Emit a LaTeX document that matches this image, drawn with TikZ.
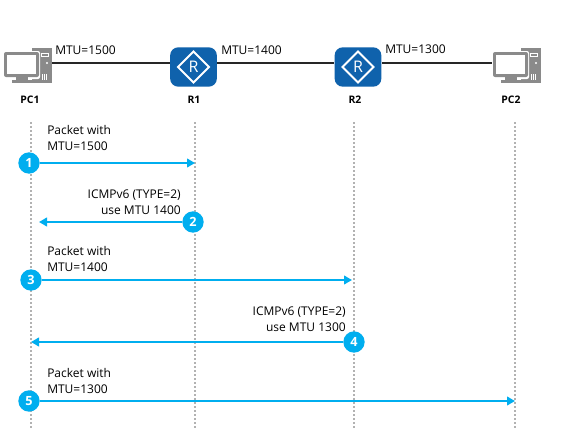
\documentclass[tikz,border=0pt]{standalone}
\usepackage{fontspec}
\setmainfont{Open Sans}
\usetikzlibrary{arrows.meta,shapes.geometric}
\definecolor{cy}{HTML}{00AEEF}
\definecolor{rb}{HTML}{0F62AC}
\definecolor{gr}{HTML}{8A8A8A}
\tikzset{
  x=0.75pt,y=-0.75pt,
  lbl/.style={font=\fontsize{9}{11.6}\selectfont,text=black,inner sep=0pt,align=left},
  lblr/.style={lbl,align=right},
  devname/.style={font=\fontsize{7.8}{10}\selectfont\bfseries,text=black,inner sep=0pt},
  link/.style={draw=black!85,line width=1.4pt},
  life/.style={draw=black!30,line width=1.1pt,dash pattern=on 1.5pt off 1.5pt},
  msg/.style={draw=cy,line width=2pt,-{Triangle[length=6pt,width=6.5pt]}},
  num/.style={circle,fill=cy,text=white,minimum size=16pt,inner sep=0pt,font=\fontsize{9.5}{10}\selectfont\bfseries},
  router/.style={rounded corners=6pt,fill=rb,minimum width=35pt,minimum height=29.5pt,inner sep=0pt},
  pcnode/.style={minimum width=36pt,minimum height=27pt,inner sep=0pt}
}
\newcommand{\pcicon}[2]{%
  \begin{scope}[shift={(#1,#2)}]
    \fill[gr] (28,-4) rectangle (48,31);
    \fill[white] (37,1) rectangle (45,5);
    \fill[gr] (38,2) rectangle (44,4);
    \fill[white] (43,11) circle (0.9pt);
    \foreach \k in {38,40,42}{\fill[white] (\k,22) rectangle (\k+1,28);}
    \fill[white,rounded corners=1.5pt] (-1,-1) rectangle (36,27);
    \fill[gr,rounded corners=1.5pt] (0,0) rectangle (35,25);
    \fill[white] (3,3) rectangle (32,22);
    \fill[gr] (12,25) rectangle (24,28);
    \fill[gr] (8,28) rectangle (30,31);
  \end{scope}}
\newcommand{\rticon}[2]{%
  \draw[white,line width=1.5pt,line join=miter] (#1-15.5,#2) -- (#1,#2-15.5) -- (#1+15.5,#2) -- (#1,#2+15.5) -- cycle;
  \node[text=white,inner sep=0pt,font=\fontsize{12}{12}\selectfont] at (#1,#2) {R};}
\begin{document}
\begin{tikzpicture}
\useasboundingbox (0,0) rectangle (569,439);
\fill[white] (0,0) rectangle (569,439);
% devices
\node[pcnode] (pc1) at (28,65) {};
\node[router] (r1) at (193.5,67) {};
\node[router] (r2) at (358,67) {};
\node[pcnode] (pc2) at (517,65) {};
\coordinate (pc1r) at (52,63);
\coordinate (r1l) at (170,63);
\coordinate (r1r) at (217,63);
\coordinate (r2l) at (334,63);
\coordinate (r2r) at (382,63);
\coordinate (pc2l) at (493,63);
\draw[link] (pc1r) -- (r1l);
\draw[link] (r1r) -- (r2l);
\draw[link] (r2r) -- (pc2l);
\pcicon{4}{52}
\pcicon{493}{52}
\rticon{193.5}{67}
\rticon{358}{67}
\node[devname] (n1) at (30,100) {PC1};
\node[devname] (n2) at (194,100) {R1};
\node[devname] (n3) at (355,100) {R2};
\node[devname] (n4) at (511,100) {PC2};
\node[lbl,anchor=west] (m1) at (55,50.5) {MTU=1500};
\node[lbl,anchor=west] (m2) at (221,50.5) {MTU=1400};
\node[lbl,anchor=west] (m3) at (385,49.5) {MTU=1300};
% lifelines
\coordinate (a0) at (31,122); \coordinate (a1) at (31,430);
\coordinate (b0) at (195,122); \coordinate (b1) at (195,430);
\coordinate (c0) at (354,122); \coordinate (c1) at (354,430);
\coordinate (d0) at (515,122); \coordinate (d1) at (515,430);
\draw[life] (a0) -- (a1);
\draw[life] (b0) -- (b1);
\draw[life] (c0) -- (c1);
\draw[life] (d0) -- (d1);
% messages
\node[num] (s1) at (29,163) {1};
\node[num] (s2) at (193,222) {2};
\node[num] (s3) at (31,280) {3};
\node[num] (s4) at (354,342) {4};
\node[num] (s5) at (29,401) {5};
\coordinate (e1) at (195,163);
\coordinate (e2) at (39,222);
\coordinate (e3) at (352,280);
\coordinate (e4) at (31,342);
\coordinate (e5) at (515,401);
\draw[msg] (s1) -- (e1);
\draw[msg] (s2) -- (e2);
\draw[msg] (s3) -- (e3);
\draw[msg] (s4) -- (e4);
\draw[msg] (s5) -- (e5);
\node[lbl,anchor=west] (t1) at (47,138) {Packet with\\MTU=1500};
\node[lblr,anchor=east] (t2) at (181,202) {ICMPv6 (TYPE=2)\\use MTU 1400};
\node[lbl,anchor=west] (t3) at (47,259) {Packet with\\MTU=1400};
\node[lblr,anchor=east] (t4) at (346,319) {ICMPv6 (TYPE=2)\\use MTU 1300};
\node[lbl,anchor=west] (t5) at (47,381) {Packet with\\MTU=1300};
\end{tikzpicture}
\end{document}
